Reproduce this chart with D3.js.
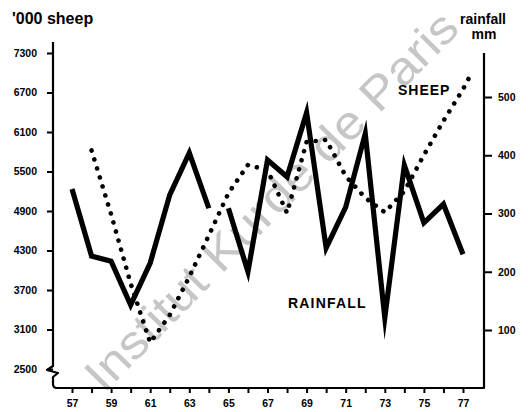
<!DOCTYPE html>
<html><head><meta charset="utf-8">
<script src="https://cdn.jsdelivr.net/npm/d3@7/dist/d3.min.js"></script>
<style>
html,body{margin:0;padding:0;background:#fff;}
svg{display:block;}
text{font-family:"Liberation Sans",Arial,Helvetica,sans-serif;}
</style></head><body>
<svg id="chart" width="528" height="412"></svg>
<script>
// Annual rainfall (mm), 1957–1977; the record is broken between 1964 and 1965
const rainYears = [57,58,59,60,61,62,63,64,65,66,67,68,69,70,71,72,73,74,75,76,77];
const rainfall  = [342,227,218,143,215,332,404,309,309,200,392,363,473,241,311,437,121,383,284,316,230];
const rainBreakAfter = 64;

// Sheep numbers ('000), 1958–1977 plus the early-1978 reading
const sheepYears = [58,59,60,61,62,63,64,65,66,67,68,69,70,71,72,73,74,75,76,77,77.5];
const sheep      = [5820,4850,3800,2900,3320,3900,4530,5170,5600,5520,4870,5950,5980,5430,5100,4880,5200,5750,6270,6750,7030];

// Axis ticks
const sheepTicks = [2500,3100,3700,4300,4900,5500,6100,6700,7300];
const rainTicks  = [100,200,300,400,500];
const yearTicks  = d3.range(57, 78);

const svg = d3.select("#chart");

const x = d3.scaleLinear().domain([57, 77]).range([72, 463]);
const yS = d3.scaleLinear().domain([2500, 7300]).range([369, 53]);
const yR = d3.scaleLinear().domain([100, 500]).range([330, 97]);

const leftX = 53, rightX = 484, bottomY = 388;

// watermark behind the data
svg.append("text")
  .attr("transform", "translate(104,394) rotate(-45.5)")
  .attr("font-size", 47)
  .attr("fill", "#c6c6c6")
  .attr("textLength", 510)
  .attr("lengthAdjust", "spacingAndGlyphs")
  .text("Institut Kurde de Paris");

// frame: left axis with scale break at 2500, bottom axis, right axis
const frame = d3.path();
frame.moveTo(leftX, 42);
frame.lineTo(leftX, yS(2500) - 3);
frame.lineTo(leftX - 6, yS(2500) + 1);
frame.lineTo(leftX + 5, yS(2500) + 4);
frame.lineTo(leftX, yS(2500) + 8);
frame.lineTo(leftX, bottomY - 4);
frame.quadraticCurveTo(leftX, bottomY, leftX + 4, bottomY);
frame.lineTo(rightX, bottomY);
frame.lineTo(rightX, 53);
svg.append("path").attr("d", frame.toString())
  .attr("fill", "none").attr("stroke", "#000").attr("stroke-width", 2.2)
  .attr("stroke-linejoin", "round");

function styleAxis(g, fs) {
  g.select(".domain").remove();
  g.selectAll(".tick line").attr("stroke", "#000").attr("stroke-width", 2);
  g.selectAll(".tick text").attr("fill", "#000").attr("font-size", fs)
    .attr("font-weight", "bold").attr("font-family", "'Liberation Sans',Arial,sans-serif");
}

// left axis (sheep)
svg.append("g").attr("transform", `translate(${leftX},0)`)
  .call(d3.axisLeft(yS).tickValues(sheepTicks).tickSize(6).tickPadding(10).tickFormat(d3.format("d")))
  .call(g => styleAxis(g, 10.5));

// right axis (rainfall)
svg.append("g").attr("transform", `translate(${rightX},0)`)
  .call(d3.axisRight(yR).tickValues(rainTicks).tickSize(8).tickPadding(6).tickFormat(d3.format("d")))
  .call(g => styleAxis(g, 10.5));

// bottom axis (years)
svg.append("g").attr("transform", `translate(0,${bottomY})`)
  .call(d3.axisBottom(x).tickValues(yearTicks).tickSize(5).tickPadding(7)
    .tickFormat(d => d % 2 === 1 ? String(d) : ""))
  .call(g => styleAxis(g, 10.5));

// rainfall: solid heavy line, drawn as two runs
const rainPts = rainYears.map((yr, i) => ({yr, v: rainfall[i]}));
const rainRuns = [rainPts.filter(p => p.yr <= rainBreakAfter), rainPts.filter(p => p.yr > rainBreakAfter)];
const rainLine = d3.line().x(p => x(p.yr)).y(p => yR(p.v));
svg.selectAll("path.rain").data(rainRuns).join("path")
  .attr("class", "rain")
  .attr("d", rainLine)
  .attr("fill", "none").attr("stroke", "#000").attr("stroke-width", 5.2)
  .attr("stroke-linejoin", "miter").attr("stroke-miterlimit", 10);

// sheep: dotted line
const sheepPts = sheepYears.map((yr, i) => ({yr, v: sheep[i]}));
svg.append("path")
  .attr("d", d3.line().x(p => x(p.yr)).y(p => yS(p.v))(sheepPts))
  .attr("fill", "none").attr("stroke", "#000").attr("stroke-width", 4.6)
  .attr("stroke-linecap", "round").attr("stroke-dasharray", "0.1 9.3");

// titles and labels
svg.append("text").attr("x", 12).attr("y", 24).attr("font-size", 16).attr("font-weight", "bold")
  .text("'000 sheep");
svg.append("text").attr("x", 483).attr("y", 24).attr("text-anchor", "middle")
  .attr("font-size", 14).attr("font-weight", "bold").text("rainfall");
svg.append("text").attr("x", 484).attr("y", 39).attr("text-anchor", "middle")
  .attr("font-size", 14).attr("font-weight", "bold").text("mm");
svg.append("text").attr("x", 398).attr("y", 95).attr("font-size", 14).attr("font-weight", "bold")
  .attr("letter-spacing", 1).text("SHEEP");
svg.append("text").attr("x", 288).attr("y", 308).attr("font-size", 14).attr("font-weight", "bold")
  .attr("letter-spacing", 1.2).text("RAINFALL");
</script>
</body></html>
